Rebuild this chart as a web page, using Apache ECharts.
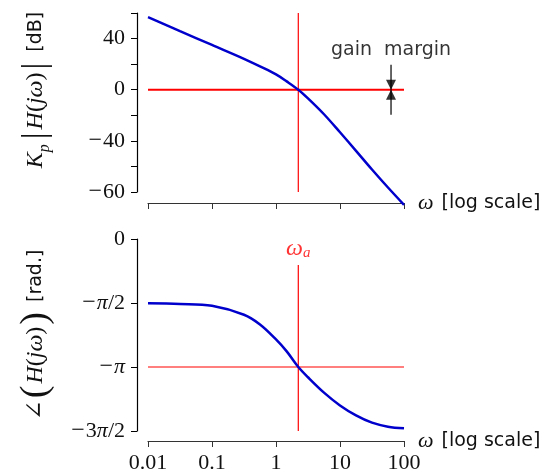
<!DOCTYPE html>
<html>
<head>
<meta charset="utf-8">
<title>Bode plot</title>
<script src="https://cdn.jsdelivr.net/npm/echarts@6/dist/echarts.min.js"></script>
<style>
    html, body { margin: 0; padding: 0; background: #fff; }
    #chart { width: 552px; height: 476px; }
</style>
</head>
<body>
<div id="chart"></div>
<script>
// frequencies (rad/s)
var omega = [0.01, 0.0316, 0.1, 0.316, 0.562, 1, 1.47, 2.23, 3.16, 5.62, 10, 17.8, 31.6, 56.2, 100];
// Kp|H(jw)| in dB
var magnitude = [56.7, 45.8, 35, 24.2, 18.3, 12, 6.5, 0, -6.8, -19.2, -33.3, -47.8, -62.4, -76.5, -90];
// phase, in multiples of pi
var phase = [-0.502, -0.507, -0.522, -0.592, -0.668, -0.785, -0.878, -1, -1.08, -1.2, -1.3, -1.378, -1.435, -1.466, -1.479];

var omegaA = 2.23;          // crossover frequency
var omegaGM = 62.7;         // where the gain margin arrows sit
var magTickLabels = {
    "40": "{n|40}",
    "0": "{n|0}",
    "-40": "{m|\u2212}{n|40}",
    "-80": "{m|\u2212}{n|60}"
};
var phaseTickLabels = {
    "0": "{n|0}",
    "-0.5": "{m|\u2212}{i|\u03c0}{n|/2}",
    "-1": "{m|\u2212}{i|\u03c0}",
    "-1.5": "{m|\u2212}{n|3}{i|\u03c0}{n|/2}"
};

var serif = '"Liberation Serif", "DejaVu Serif", serif';
var sans = '"DejaVu Sans", sans-serif';
var blue = '#0000cc', red = '#ff0000', ink = '#111';

function zip(xs, ys) {
    return xs.map(function (x, i) { return [x, ys[i]]; });
}

var nameRich = {
    w: { fontFamily: serif, fontStyle: 'italic', fontSize: 22, color: ink, padding: [0, 8, 0, 0] },
    s: { fontFamily: sans, fontSize: 19, color: ink }
};

var labelRich = {
    n: { fontFamily: serif, fontSize: 22, color: ink },
    m: { fontFamily: serif, fontSize: 24, color: ink, padding: [0, 1, 0, 0] },
    i: { fontFamily: serif, fontStyle: 'italic', fontSize: 22, color: ink }
};

function xAxisFor(gridIndex, showLabels, offset) {
    return {
        type: 'log',
        logBase: 10,
        gridIndex: gridIndex,
        min: 0.01,
        max: 100,
        offset: offset,
        name: '{w|\u03c9}{s|[log scale]}',
        nameLocation: 'end',
        nameGap: 14,
        nameTextStyle: { rich: nameRich },
        axisLine: { onZero: false, lineStyle: { color: '#333', width: 1.2 } },
        axisTick: { show: true, length: 6, lineStyle: { color: '#333' } },
        minorTick: { show: false },
        splitLine: { show: false },
        axisLabel: {
            show: showLabels,
            margin: 11,
            fontFamily: serif,
            fontSize: 22,
            color: ink,
            formatter: function (v) { return String(parseFloat(Number(v).toPrecision(6))); }
        }
    };
}

function yAxisFor(gridIndex, min, max, step, labels) {
    return {
        gridIndex: gridIndex,
        min: min,
        max: max,
        interval: step,
        offset: 11,
        axisLine: { show: true, lineStyle: { color: '#000', width: 1.2 } },
        axisTick: { show: true, length: 6, lineStyle: { color: '#000' } },
        splitLine: { show: false },
        axisLabel: {
            margin: 12,
            rich: labelRich,
            formatter: function (v) {
                var key = String(Math.round(v / step) * step);
                return labels[key] || '';
            }
        }
    };
}

var chart = echarts.init(document.getElementById('chart'), null, { renderer: 'canvas' });

var option = {
    animation: false,
    backgroundColor: '#fff',
    grid: [
        { left: 148, top: 13, width: 256, height: 179 },
        { left: 148, top: 239, width: 256, height: 192 }
    ],
    xAxis: [
        xAxisFor(0, false, 11),
        xAxisFor(1, true, 10)
    ],
    yAxis: [
        yAxisFor(0, -80, 60, 20, magTickLabels),
        yAxisFor(1, -1.5, 0, 0.5, phaseTickLabels)
    ],
    graphic: [{
        // y label of the magnitude panel
        type: 'text',
        x: 36,
        y: 90,
        rotation: Math.PI / 2,
        style: {
            text: '{i|K}{sub|p}{bar||}{i|H}{n|(}{i|j\u03c9}{n|)}{bar||}{s|[dB]}',
            align: 'center',
            verticalAlign: 'middle',
            rich: {
                i: { fontFamily: serif, fontStyle: 'italic', fontSize: 24, fill: ink, lineHeight: 34 },
                n: { fontFamily: serif, fontSize: 24, fill: ink, lineHeight: 34 },
                sub: { fontFamily: serif, fontStyle: 'italic', fontSize: 16, fill: ink, lineHeight: 34, verticalAlign: 'bottom', padding: [0, 2, 0, 0] },
                bar: { fontFamily: serif, fontSize: 34, fill: ink, lineHeight: 34, padding: [0, 3, 0, 3] },
                s: { fontFamily: sans, fontSize: 19, fill: ink, lineHeight: 34, padding: [0, 0, 0, 8] }
            }
        }
    }, {
        // y label of the phase panel
        type: 'text',
        x: 36,
        y: 335,
        rotation: Math.PI / 2,
        style: {
            text: '{n|\u2220}{big|(}{i|H}{n|(}{i|j\u03c9}{n|)}{big|)}{s|[rad.]}',
            align: 'center',
            verticalAlign: 'middle',
            rich: {
                i: { fontFamily: serif, fontStyle: 'italic', fontSize: 24, fill: ink, lineHeight: 38 },
                n: { fontFamily: serif, fontSize: 24, fill: ink, lineHeight: 38 },
                big: { fontFamily: serif, fontSize: 38, fill: ink, lineHeight: 38, padding: [0, 2, 0, 2] },
                s: { fontFamily: sans, fontSize: 19, fill: ink, lineHeight: 38, padding: [0, 0, 0, 8] }
            }
        }
    }],
    series: [
        // 0 dB reference
        {
            type: 'line', xAxisIndex: 0, yAxisIndex: 0,
            data: [[0.01, 0], [100, 0]],
            symbol: 'none', silent: true,
            lineStyle: { color: red, width: 2 }
        },
        // crossover, top
        {
            type: 'line', xAxisIndex: 0, yAxisIndex: 0,
            data: [[omegaA, 60], [omegaA, -80]],
            symbol: 'none', silent: true,
            lineStyle: { color: red, width: 1.2 }
        },
        // magnitude curve
        {
            type: 'line', xAxisIndex: 0, yAxisIndex: 0,
            data: zip(omega, magnitude),
            symbol: 'none', smooth: 0.35, clip: false,
            lineStyle: { color: blue, width: 2.5 }
        },
        // gain margin arrow stem
        {
            type: 'line', xAxisIndex: 0, yAxisIndex: 0,
            data: [[omegaGM, 19.6], [omegaGM, -19.6]],
            symbol: 'none', silent: true,
            lineStyle: { color: '#000', width: 1.2 }
        },
        // arrow heads and the label
        {
            type: 'scatter', xAxisIndex: 0, yAxisIndex: 0,
            symbol: 'triangle', symbolSize: [10, 10],
            itemStyle: { color: '#000' },
            silent: true,
            data: [
                { value: [omegaGM, 3.9], symbolRotate: 180 },
                { value: [omegaGM, -3.9] },
                {
                    value: [omegaGM, 19.6], symbolSize: 0,
                    label: {
                        show: true, position: 'top', distance: 5,
                        formatter: 'gain  margin',
                        fontFamily: sans, fontSize: 19, color: '#000'
                    }
                }
            ]
        },
        // -pi reference
        {
            type: 'line', xAxisIndex: 1, yAxisIndex: 1,
            data: [[0.01, -1], [100, -1]],
            symbol: 'none', silent: true,
            lineStyle: { color: red, width: 1.2 }
        },
        // crossover, bottom
        {
            type: 'line', xAxisIndex: 1, yAxisIndex: 1,
            data: [[omegaA, -0.203], [omegaA, -1.5]],
            symbol: 'none', silent: true,
            lineStyle: { color: red, width: 1.2 }
        },
        // omega_a label
        {
            type: 'scatter', xAxisIndex: 1, yAxisIndex: 1,
            symbolSize: 0, silent: true,
            data: [[omegaA, -0.203]],
            label: {
                show: true, position: 'top', distance: 4,
                formatter: '{w|\u03c9}{a|a}',
                rich: {
                    w: { fontFamily: serif, fontStyle: 'italic', fontSize: 24, color: red },
                    a: { fontFamily: serif, fontStyle: 'italic', fontSize: 15, color: red, verticalAlign: 'bottom', padding: [10, 0, 0, 0] }
                }
            }
        },
        // phase curve
        {
            type: 'line', xAxisIndex: 1, yAxisIndex: 1,
            data: zip(omega, phase),
            symbol: 'none', smooth: 0.35, clip: false,
            lineStyle: { color: blue, width: 2.5 }
        }
    ]
};

chart.setOption(option);
</script>
</body>
</html>
